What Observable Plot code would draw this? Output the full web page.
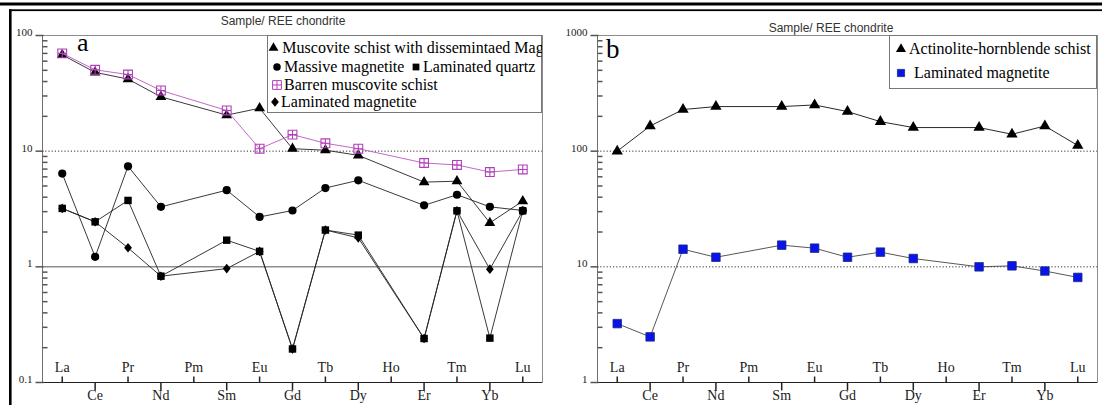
<!DOCTYPE html>
<html>
<head>
<meta charset="utf-8">
<script src="https://cdn.jsdelivr.net/npm/d3@7"></script>
<script src="https://cdn.jsdelivr.net/npm/@observablehq/plot@0.6"></script>
<style>
  html, body { margin: 0; padding: 0; background: #fff; }
  #root { position: relative; width: 1102px; height: 405px; overflow: hidden; background: #fff; }
  #root > .panel { position: absolute; top: 0; }
</style>
</head>
<body>
<div id="root"></div>
<script>
// ---------------- data ----------------
const ree = ["La","Ce","Pr","Nd","Pm","Sm","Eu","Gd","Tb","Dy","Ho","Er","Tm","Yb","Lu"];

// Panel a (Sample / REE chondrite)
const namesA = ["Muscovite schist with dissemintaed Mag","Massive magnetite","Laminated quartz","Barren muscovite schist","Laminated magnetite"];
const muscoviteSchistMag = [68, 48, 42, 29.5, null, 20.5, 23.5, 10.5, 10.2, 9.2, null, 5.4, 5.5, 2.4, 3.7];
const massiveMagnetite   = [6.4, 1.22, 7.4, 3.3, null, 4.6, 2.7, 3.07, 4.8, 5.6, null, 3.4, 4.2, 3.3, 3.07];
const laminatedQuartz    = [3.2, 2.45, 3.75, 0.83, null, 1.7, 1.36, 0.195, 2.08, 1.88, null, 0.24, 3.05, 0.242, 3.05];
const barrenSchist       = [70, 50.5, 46, 33.5, null, 22.5, 10.5, 13.9, 11.7, 10.5, null, 7.9, 7.6, 6.6, 6.95];
const laminatedMagA      = [3.2, 2.45, 1.46, 0.83, null, 0.965, 1.36, 0.195, 2.08, 1.78, null, 0.24, 3.05, 0.955, 3.05];

// Panel b
const namesB = ["Actinolite-hornblende schist","Laminated magnetite"];
const actinoliteSchist = [100, 165, 229, 243, null, 243, 251, 220, 180, 160, null, 160, 140, 165, 112];
const laminatedMagB    = [3.23, 2.48, 14.2, 12.1, null, 15.4, 14.5, 12.1, 13.4, 11.8, null, 10.0, 10.2, 9.2, 8.1];

// axis ticks / labels
const yTicksA = [0.1, 1, 10, 100];
const yLabelsA = ["0.1", "1", "10", "100"];
const yTicksB = [1, 10, 100, 1000];
const yLabelsB = ["1", "10", "100", "1000"];
const titleText = "Sample/ REE chondrite";

// ---------------- helpers ----------------
const serif = "'Liberation Serif', 'Times New Roman', serif";
const sans = "'Liberation Sans', Arial, sans-serif";
const rowsOf = vals => vals.map((v, i) => ({i, v})).filter(d => d.v != null);
const idx = ree.map((_, i) => i);
const evenIdx = idx.filter(i => i % 2 === 0);
const oddIdx = idx.filter(i => i % 2 === 1);
const minorOf = (lo, hi) => {
  const out = [];
  for (let p = lo; p < hi; p *= 10) for (let k = 2; k <= 9; k++) out.push(+(p * k).toPrecision(3));
  return out;
};

const tickUp    = {draw(c) { c.moveTo(0, 0); c.lineTo(0, -6); }};
const tickDown  = {draw(c) { c.moveTo(0, 0); c.lineTo(0, 8); }};
const tickLeft  = {draw(c) { c.moveTo(1, 0); c.lineTo(-7, 0); }};
const tickMinor = {draw(c) { c.moveTo(0, 0); c.lineTo(5, 0); }};
const diamondSym = {draw(c) { c.moveTo(0, -4.8); c.lineTo(3.9, 0); c.lineTo(0, 4.8); c.lineTo(-3.9, 0); c.closePath(); }};
const boxPlusSym = {draw(c) { const h = 4.4; c.moveTo(-h, -h); c.lineTo(h, -h); c.lineTo(h, h); c.lineTo(-h, h); c.closePath(); c.moveTo(-h, 0); c.lineTo(h, 0); c.moveTo(0, -h); c.lineTo(0, h); }};

const xDomain = [-0.6, 14.6];

function axisMarks(yTicks, yLabels, yMinor, yMin) {
  return [
    Plot.frame({stroke: "#8c8c8c"}),
    Plot.ruleX([xDomain[0]], {stroke: "#707070"}),
    Plot.ruleY([yMin], {stroke: "#222"}),
    Plot.dot(evenIdx, {x: d => d, frameAnchor: "bottom", symbol: tickUp, r: 1, stroke: "#222", fill: "none"}),
    Plot.dot(oddIdx, {x: d => d, frameAnchor: "bottom", symbol: tickDown, r: 1, stroke: "#222", fill: "none"}),
    Plot.text(evenIdx, {x: d => d, text: d => ree[d], frameAnchor: "bottom", dy: -11, fontSize: 14, fontFamily: serif, fill: "#1a1a1a"}),
    Plot.text(oddIdx, {x: d => d, text: d => ree[d], frameAnchor: "bottom", dy: 17, fontSize: 14, fontFamily: serif, fill: "#1a1a1a"}),
    Plot.dot(yTicks, {y: d => d, frameAnchor: "left", symbol: tickLeft, r: 1, stroke: "#555", fill: "none"}),
    Plot.dot(yMinor, {y: d => d, frameAnchor: "left", symbol: tickMinor, r: 1, stroke: "#555", fill: "none"}),
    Plot.text(yTicks, {y: d => d, text: (d, i) => yLabels[i], frameAnchor: "left", dx: -10, dy: -3, textAnchor: "end", fontSize: 11, fontFamily: serif, fill: "#222"})
  ];
}

const root = document.getElementById("root");

// ---------------- panel a ----------------
const plotA = Plot.plot({
  width: 551, height: 405,
  marginLeft: 42, marginRight: 9, marginTop: 35, marginBottom: 23,
  style: "background: transparent; overflow: visible;",
  x: {type: "linear", domain: xDomain, axis: null},
  y: {type: "log", domain: [0.1, 100], axis: null},
  marks: [
    Plot.ruleY([10], {stroke: "#333", strokeDasharray: "1.2,2"}),
    Plot.ruleY([1], {stroke: "#555"}),
    ...axisMarks(yTicksA, yLabelsA, minorOf(0.1, 100), 0.1),
    Plot.line(rowsOf(laminatedMagA), {x: "i", y: "v", stroke: "#222", strokeWidth: 0.9}),
    Plot.line(rowsOf(laminatedQuartz), {x: "i", y: "v", stroke: "#222", strokeWidth: 0.9}),
    Plot.line(rowsOf(massiveMagnetite), {x: "i", y: "v", stroke: "#222", strokeWidth: 0.9}),
    Plot.line(rowsOf(muscoviteSchistMag), {x: "i", y: "v", stroke: "#222", strokeWidth: 0.9}),
    Plot.dot(rowsOf(laminatedMagA), {x: "i", y: "v", symbol: diamondSym, r: 1, fill: "#000", stroke: "none"}),
    Plot.dot(rowsOf(laminatedQuartz), {x: "i", y: "v", symbol: "square", r: 4.2, fill: "#000", stroke: "none"}),
    Plot.dot(rowsOf(massiveMagnetite), {x: "i", y: "v", symbol: "circle", r: 4.1, fill: "#000", stroke: "none"}),
    Plot.dot(rowsOf(muscoviteSchistMag), {x: "i", y: "v", symbol: "triangle", r: 4, fill: "#000", stroke: "none"}),
    Plot.line(rowsOf(barrenSchist), {x: "i", y: "v", stroke: "#c468c8", strokeWidth: 1}),
    Plot.dot(rowsOf(barrenSchist), {x: "i", y: "v", symbol: boxPlusSym, r: 1, fill: "none", stroke: "#b040b8", strokeWidth: 1.1})
  ]
});
plotA.classList.add("panel");
plotA.style.position = "absolute";
plotA.style.left = "0px";
root.appendChild(plotA);

// ---------------- panel b ----------------
const plotB = Plot.plot({
  width: 551, height: 405,
  marginLeft: 46, marginRight: 5, marginTop: 35, marginBottom: 23,
  style: "background: transparent; overflow: visible;",
  x: {type: "linear", domain: xDomain, axis: null},
  y: {type: "log", domain: [1, 1000], axis: null},
  marks: [
    Plot.ruleY([100], {stroke: "#333", strokeDasharray: "1.2,2"}),
    Plot.ruleY([10], {stroke: "#333", strokeDasharray: "1.2,2"}),
    ...axisMarks(yTicksB, yLabelsB, minorOf(1, 1000), 1),
    Plot.line(rowsOf(actinoliteSchist), {x: "i", y: "v", stroke: "#111", strokeWidth: 0.9}),
    Plot.line(rowsOf(laminatedMagB), {x: "i", y: "v", stroke: "#444", strokeWidth: 0.9}),
    Plot.dot(rowsOf(actinoliteSchist), {x: "i", y: "v", symbol: "triangle", r: 4.2, fill: "#000", stroke: "none"}),
    Plot.dot(rowsOf(laminatedMagB), {x: "i", y: "v", symbol: "square", r: 4.8, fill: "#0a14e8", stroke: "#1a2a80", strokeWidth: 0.8})
  ]
});
plotB.classList.add("panel");
plotB.style.position = "absolute";
plotB.style.left = "551px";
root.appendChild(plotB);

// ---------------- overlay: frame lines, titles, panel letters, legends ----------------
const ov = d3.select(root).append("svg")
  .attr("width", 1102).attr("height", 405)
  .style("position", "absolute").style("left", "0px").style("top", "0px");

ov.append("rect").attr("x", 0).attr("y", 2.5).attr("width", 1102).attr("height", 3).attr("fill", "#000");
ov.append("rect").attr("x", 9).attr("y", 9.3).attr("width", 1093).attr("height", 1.8).attr("fill", "#000");
ov.append("rect").attr("x", 9).attr("y", 9.3).attr("width", 2.6).attr("height", 400).attr("fill", "#000");

// titles
ov.append("text").attr("x", 283).attr("y", 25).attr("text-anchor", "middle")
  .attr("font-family", sans).attr("font-size", 12).attr("fill", "#333").text(titleText);
ov.append("text").attr("x", 831).attr("y", 32).attr("text-anchor", "middle")
  .attr("font-family", sans).attr("font-size", 12).attr("fill", "#333").text(titleText);

// panel letters
ov.append("text").attr("x", 77).attr("y", 51).attr("font-family", serif).attr("font-size", 26).attr("fill", "#000").text("a");
ov.append("text").attr("x", 606).attr("y", 58).attr("font-family", serif).attr("font-size", 27).attr("fill", "#000").text("b");

function symbolAt(g, type, size, x, y, fill, stroke, sw) {
  g.append("path").attr("d", d3.symbol(type, size)())
    .attr("transform", `translate(${x},${y})`)
    .attr("fill", fill).attr("stroke", stroke || "none").attr("stroke-width", sw || 1);
}
function legendText(g, x, y, s) {
  g.append("text").attr("x", x).attr("y", y).attr("font-family", serif).attr("font-size", 16).attr("fill", "#000").text(s);
}

// legend a
ov.append("defs").append("clipPath").attr("id", "clipA")
  .append("rect").attr("x", 267).attr("y", 35).attr("width", 275).attr("height", 78);
ov.append("rect").attr("x", 267.5).attr("y", 35.5).attr("width", 274).attr("height", 77)
  .attr("fill", "#fff").attr("stroke", "#777");
const la = ov.append("g").attr("clip-path", "url(#clipA)");
symbolAt(la, d3.symbolTriangle, 42, 273.5, 48, "#000");
legendText(la, 281, 53, "\u200A" + namesA[0]);
symbolAt(la, d3.symbolCircle, 44, 277, 67, "#000");
legendText(la, 284, 72, namesA[1]);
symbolAt(la, d3.symbolSquare, 46, 416, 67, "#000");
legendText(la, 423, 72, namesA[2]);
symbolAt(la, boxPlusSym, 1, 277, 85, "none", "#b040b8", 1);
legendText(la, 284, 90, namesA[3]);
symbolAt(la, diamondSym, 1, 275, 102, "#000");
legendText(la, 281, 107, namesA[4]);

// legend b
ov.append("rect").attr("x", 889.5).attr("y", 35.5).attr("width", 207).attr("height", 53)
  .attr("fill", "#fff").attr("stroke", "#777");
symbolAt(ov, d3.symbolTriangle, 44, 901, 49, "#000");
legendText(ov, 909, 54, namesB[0]);
symbolAt(ov, d3.symbolSquare, 52, 901, 73, "#0a14e8", "#1a2a80", 0.8);
legendText(ov, 914, 78, namesB[1]);
</script>
</body>
</html>
